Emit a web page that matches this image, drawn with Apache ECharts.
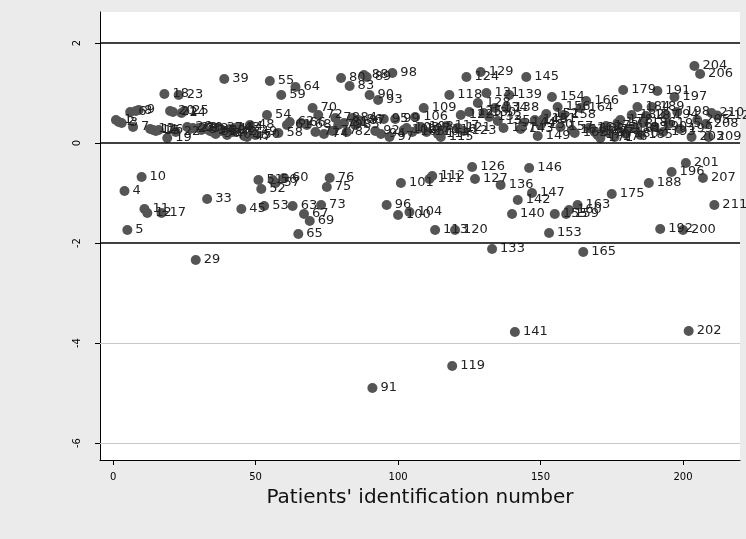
<!DOCTYPE html>
<html><head><meta charset="utf-8">
<script src="https://cdn.jsdelivr.net/npm/echarts@6/dist/echarts.min.js"></script>
<style>html,body{margin:0;padding:0;background:#EBEBEB}#c{width:746px;height:539px}</style>
</head><body><div id="c"></div>
<script>
// residual per patient id (1..212)
const residuals = [
 0.46,0.42,0.40,-0.96,-1.74,0.62,0.32,0.64,0.66,-0.68,
 -1.32,-1.40,0.28,0.26,0.24,0.26,-1.40,0.98,0.10,0.64,
 0.62,0.22,0.96,0.60,0.64,0.32,0.28,0.30,-2.34,0.30,
 0.26,0.28,-1.12,0.24,0.22,0.18,0.30,0.24,1.28,0.16,
 0.28,0.22,0.30,0.32,-1.32,0.14,0.12,0.36,0.22,0.16,
 -0.74,-0.92,-1.26,0.56,1.24,-0.74,-0.80,0.20,0.96,-0.70,
 0.36,0.42,-1.26,1.12,-1.82,0.40,-1.42,0.36,-1.56,0.70,
 0.22,0.56,-1.24,0.18,-0.88,-0.70,0.24,0.50,0.36,1.30,
 0.40,0.22,1.14,0.50,0.36,0.46,0.44,1.36,1.32,0.96,
 -4.90,0.24,0.86,0.18,0.48,-1.24,0.12,1.40,0.48,-1.44,
 -0.80,0.26,0.30,-1.38,0.22,0.52,0.28,0.32,0.70,0.22,
 -0.72,-0.66,-1.74,0.18,0.12,0.26,0.34,0.96,-4.46,-1.74,
 0.30,0.56,0.24,1.32,0.62,-0.48,-0.72,0.80,1.42,0.60,
 1.00,0.52,-2.12,0.70,0.44,-0.84,0.30,0.70,0.96,-1.42,
 -3.78,-1.14,0.28,0.40,1.32,-0.50,-1.00,0.46,0.14,0.36,
 0.48,0.58,-1.80,0.92,-1.42,0.72,0.32,0.56,-1.42,-1.34,
 0.26,0.20,-1.24,0.70,-2.18,0.84,0.30,0.28,0.22,0.16,
 0.10,0.26,0.34,0.20,-1.02,0.12,0.40,0.46,1.06,0.18,
 0.28,0.56,0.30,0.72,0.16,0.40,0.54,-0.80,0.72,0.32,
 1.04,-1.72,0.22,0.56,0.38,-0.58,0.92,0.62,0.28,-1.74,
 -0.40,-3.76,0.12,1.54,0.46,1.38,-0.70,0.38,0.12,0.60,
 -1.24,0.55
];
const patientIds = residuals.map((v, i) => i + 1);
const xTicks = [0, 50, 100, 150, 200];
const yTicks = [-6, -4, -2, 0, 2];
const refLines = [2, 0, -2];
const gridLines = [-4, -6];

const pts = patientIds.map((id, i) => [id, residuals[i]]);
const font = 'DejaVu Sans';
const chart = echarts.init(document.getElementById('c'), null, {renderer: 'canvas'});
chart.setOption({
  backgroundColor: '#EBEBEB',
  animation: false,
  grid: {left: 100, right: 6, top: 12, bottom: 79, show: true, backgroundColor: '#ffffff', borderWidth: 0},
  xAxis: {
    type: 'value', min: -4.6, max: 220,
    axisLine: {show: true, onZero: false, lineStyle: {color: '#000', width: 1}},
    axisTick: {show: true, customValues: xTicks, length: 5, lineStyle: {color: '#000'}},
    axisLabel: {customValues: xTicks, fontSize: 10, color: '#000', fontFamily: font, margin: 12},
    splitLine: {show: false},
    name: "Patients' identification number", nameLocation: 'middle', nameGap: 28,
    nameTextStyle: {fontSize: 20, color: '#111', fontFamily: font}
  },
  yAxis: {
    type: 'value', min: -6.34, max: 2.62,
    axisLine: {show: true, onZero: false, lineStyle: {color: '#000', width: 1}},
    axisTick: {show: true, customValues: yTicks, length: 5, lineStyle: {color: '#000'}},
    axisLabel: {customValues: yTicks, fontSize: 10, color: '#000', fontFamily: font, rotate: 90, margin: 18},
    splitLine: {show: false}
  },
  series: [{
    type: 'scatter',
    data: pts,
    symbol: 'circle', symbolSize: 10,
    itemStyle: {color: '#555555', opacity: 1},
    label: {show: true, position: 'right', distance: 3, formatter: p => String(p.data[0]),
      fontSize: 13, color: '#222', fontFamily: font},
    labelLayout: {hideOverlap: false},
    markLine: {
      silent: true, symbol: 'none', label: {show: false}, animation: false,
      data: refLines.map(v => ({yAxis: v, lineStyle: {color: '#000', width: 1.5, type: 'solid'}}))
        .concat(gridLines.map(v => ({yAxis: v, lineStyle: {color: '#c8c8c8', width: 1, type: 'solid'}})))
    },
    z: 3
  }]
});
</script></body></html>
